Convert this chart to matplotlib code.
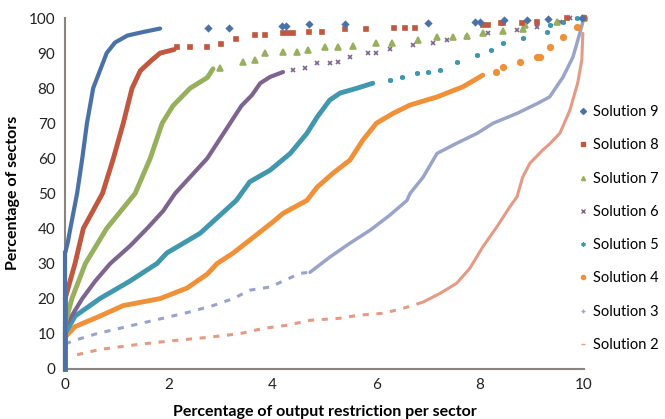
import matplotlib
matplotlib.use("Agg")
from matplotlib import pyplot as plt

plt.rcParams['font.family'] = ['Lato', 'DejaVu Sans']

# values (x = % output restriction, y = % of sectors)
# zero_levels = share of sectors with no restriction (stack at x = 0)
# "line" = dense stretches, "sparse" = thinly dotted stretches, "dots" = isolated points
zero_levels = [33, 20, 13, 12, 10, 9, 7, 4]

s9_line_x = [0, 0.05, 0.1, 0.23, 0.33, 0.42, 0.54, 0.8, 0.96, 1.2, 1.5, 1.83]
s9_line_y = [33, 36, 40, 50, 60, 70, 80, 90, 93, 95, 96, 97]
s9_dots_x = [2.76, 3.16, 4.18, 4.26, 4.7, 5.4, 7.0, 7.9, 8.0, 8.46, 8.9, 9.3, 9.96]
s9_dots_y = [97.2, 97.2, 97.7, 97.7, 98.3, 98.3, 98.5, 98.8, 98.8, 99.4, 99.5, 99.6, 100]

s8_line_x = [0, 0.19, 0.35, 0.72, 0.93, 1.12, 1.29, 1.45, 1.67, 1.83, 2.1]
s8_line_y = [20, 30, 40, 50, 60, 70, 80, 85, 88, 90, 91]
s8_dots_x = [2.15, 2.4, 2.73, 3.0, 3.3, 3.66, 3.85, 4.2, 4.3, 4.4, 4.7, 4.95, 5.4, 5.8,
             6.34, 6.55, 6.74, 8.05, 8.15, 8.4, 8.44, 8.8, 9.1, 9.67, 10]
s8_dots_y = [91.7, 91.7, 91.7, 92.5, 94, 95.1, 95.1, 95.7, 95.7, 95.7, 96, 96, 96.9, 96.9,
             97.1, 97.1, 97.1, 97.9, 97.9, 98.5, 98.5, 98.5, 98.8, 100, 100]

s7_line_x = [0, 0.13, 0.39, 0.8, 1.35, 1.64, 1.87, 2.08, 2.41, 2.74, 2.85]
s7_line_y = [13, 20, 30, 40, 50, 60, 70, 75, 80, 83, 85.5]
s7_dots_x = [2.99, 3.43, 3.66, 3.85, 4.2, 4.47, 4.68, 5.0, 5.26, 5.55, 6.0, 6.3, 6.8,
             7.17, 7.48, 7.75, 8.05, 8.44, 8.82, 8.86, 9.48, 10]
s7_dots_y = [85.7, 87.5, 88, 90, 90.3, 90.3, 91, 91.7, 91.7, 92, 92.9, 92.9, 93.7,
             94.7, 94.7, 94.9, 95.6, 96.4, 96.8, 98.1, 98.9, 100]

s6_line_x = [0, 0.33, 0.58, 0.87, 1.25, 1.58, 1.89, 2.12, 2.74, 3.18, 3.4, 3.6,
             3.76, 3.95, 4.2]
s6_line_y = [12, 20, 25, 30, 35, 40, 45, 50, 60, 70, 75, 78, 81.4, 83.2, 84.6]
s6_dots_x = [4.39, 4.62, 4.86, 5.1, 5.26, 5.49, 5.84, 6.0, 6.26, 6.7, 7.09, 7.36, 7.75,
             8.15, 8.71, 9.1, 9.1, 9.54, 9.73]
s6_dots_y = [85.1, 85.7, 87.2, 87.2, 87.5, 88.9, 89.9, 89.9, 91.1, 92.3, 92.8, 93.7, 94.7,
             95.6, 96.6, 97.5, 98.4, 98.8, 100]

s5_line_x = [0, 0.19, 0.67, 1.25, 1.77, 1.96, 2.6, 3.3, 3.56, 3.95, 4.34, 4.66,
             4.86, 5.1, 5.3, 5.63, 5.93]
s5_line_y = [10, 15, 20, 25, 30, 33, 38.6, 48, 53.3, 56.6, 61.4, 67.1,
             71.8, 76.6, 78.6, 80, 81.4]
s5_dots_x = [6.26, 6.5, 6.78, 7.0, 7.23, 7.55, 7.94, 8.2, 8.44, 8.82, 9.29, 9.34, 9.6, 9.87]
s5_dots_y = [82.3, 83.2, 84.2, 84.6, 85.1, 87.5, 89.4, 91, 92.8, 94.2, 96, 98, 98.9, 100]

s4_line_x = [0, 0.19, 0.67, 1.12, 1.83, 2.35, 2.74, 2.93, 3.24, 3.5, 4.0, 4.2, 4.66,
             4.86, 5.16, 5.49, 5.74, 6.0, 6.32, 6.65, 7.17, 7.67, 8.05]
s4_line_y = [9, 12, 15, 18, 20, 23, 27, 30, 33, 36, 41.8, 44.3, 48,
             51.8, 55.7, 59.5, 65.2, 70, 72.8, 75.2, 77.5, 80.4, 83.7]
s4_dots_x = [8.3, 8.44, 8.77, 9.1, 9.15, 9.34, 9.6, 9.87, 10]
s4_dots_y = [84.6, 86, 87.5, 88.9, 88.9, 91.7, 94.6, 97.5, 100]

s3_sparse_x = [0, 0.16, 0.61, 1.19, 1.77, 2.35, 2.85, 3.24, 3.56, 3.95, 4.53, 4.72]
s3_sparse_y = [7, 8, 10, 12, 14, 16, 18, 20, 22.4, 23.3, 27.2, 27.5]
s3_line_x = [4.72, 5.1, 5.49, 5.88, 6.26, 6.59, 6.65, 6.9, 7.17, 7.55, 7.94,
             8.25, 8.71, 9.1, 9.34, 9.6, 9.79, 9.92, 10]
s3_line_y = [27.5, 31.8, 35.8, 39.5, 43.8, 48, 50, 54.6, 61.4, 64.3, 67.1,
             70, 72.8, 75.6, 77.5, 83.2, 88.9, 95.6, 100]

s2_sparse_x = [0.23, 0.67, 1.45, 2.08, 2.79, 3.37, 3.82, 4.28, 4.72, 5.3, 5.68,
               6.13, 6.51, 6.9]
s2_sparse_y = [4, 5.5, 7, 8, 9, 10, 11.5, 12.4, 13.8, 14.4, 15.3, 15.8, 17.2, 19]
s2_line_x = [6.9, 7.23, 7.55, 7.8, 8.05, 8.32, 8.57, 8.71, 8.82, 8.96,
             9.21, 9.34, 9.54, 9.73, 9.88, 9.96, 9.98]
s2_line_y = [19, 21.5, 24.4, 28.6, 34.7, 40.4, 46.1, 49, 54.6, 58.6,
             62.4, 64.1, 67.2, 73.7, 81.4, 88, 95.6]

labels = ["Solution 9", "Solution 8", "Solution 7", "Solution 6",
          "Solution 5", "Solution 4", "Solution 3", "Solution 2"]
lines_x = [s9_line_x, s8_line_x, s7_line_x, s6_line_x, s5_line_x, s4_line_x, s3_line_x, s2_line_x]
lines_y = [s9_line_y, s8_line_y, s7_line_y, s6_line_y, s5_line_y, s4_line_y, s3_line_y, s2_line_y]
dots_x = [s9_dots_x, s8_dots_x, s7_dots_x, s6_dots_x, s5_dots_x, s4_dots_x, [], []]
dots_y = [s9_dots_y, s8_dots_y, s7_dots_y, s6_dots_y, s5_dots_y, s4_dots_y, [], []]
sparse_x = [[], [], [], [], [], [], s3_sparse_x, s2_sparse_x]
sparse_y = [[], [], [], [], [], [], s3_sparse_y, s2_sparse_y]

colors = ["#4a72a8", "#c0573f", "#96b05e", "#7d6590", "#4197ae", "#f0913a", "#9aa4c8", "#e49a84"]
markers = ["D", "s", "^", "x", (6, 2, 0), "o", "+", "_"]
widths = [3, 3.5, 3.5, 3, 3.5, 3.5, 2.5, 2.2]
msizes = [3, 3.5, 3.8, 3.5, 3.5, 4, 4, 4]

fig = plt.figure(figsize=(6.65, 4.19), dpi=100)
ax = fig.add_axes([0.098, 0.12, 0.78, 0.837])

# draw solution 2 first so solution 9 sits on top
for i in reversed(range(len(labels))):
    z = 2 + (8 - i)
    # stack of zero-restriction sectors along the y axis
    ax.plot([0, 0], [0, zero_levels[i]], color=colors[i], lw=widths[i],
            clip_on=False, zorder=z)
    ax.plot(lines_x[i], lines_y[i], color=colors[i], lw=widths[i],
            solid_capstyle="round", clip_on=False, zorder=z)
    ax.plot(sparse_x[i], sparse_y[i], color=colors[i], lw=2.2,
            ls=(0, (2, 2.5)), clip_on=False, zorder=z)
    ax.plot(dots_x[i], dots_y[i], ls="none", marker=markers[i], ms=msizes[i],
            mew=1.2, color=colors[i], clip_on=False, zorder=z)

# legend handles only (small markers like the Excel legend)
handles = []
for i in range(len(labels)):
    h, = ax.plot([], [], ls="none", marker=markers[i], ms=3, mew=1.0,
                 color=colors[i], label=labels[i])
    handles.append(h)
ax.legend(handles=handles, loc="upper left", bbox_to_anchor=(0.979, 0.768),
          frameon=False, fontsize=10.5, labelspacing=1.32, handlelength=0.6,
          handletextpad=0.35, borderaxespad=0)

ax.set_xlim(0, 10)
ax.set_ylim(0, 100)
ax.set_xticks(range(0, 11, 2))
ax.set_yticks(range(0, 101, 10))
ax.tick_params(length=0, labelsize=11, colors="#222222", pad=7)
for side in ["top", "right"]:
    ax.spines[side].set_visible(False)
for side in ["left", "bottom"]:
    ax.spines[side].set_color("#8a8480")
    ax.spines[side].set_linewidth(1.5)

ax.set_xlabel("Percentage of output restriction per sector", fontsize=11.5,
              fontweight="bold", labelpad=9)
ax.set_ylabel("Percentage of sectors", fontsize=11.5, fontweight="bold", labelpad=6)

fig.savefig("out.png", dpi=100)
